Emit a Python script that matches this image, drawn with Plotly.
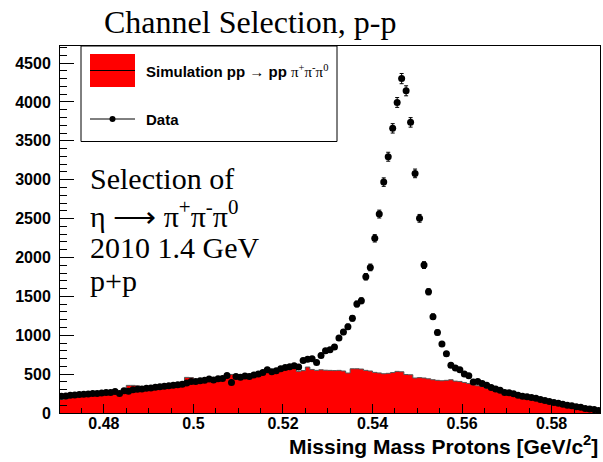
import numpy as np
import plotly.graph_objects as go

# ---- histogram binning (Missing mass, GeV/c^2) ----
bin_low = 0.470
bin_width = 0.001
n_bins = 121

# ---- measured data (counts per bin) ----
data_counts = [
    215, 220, 228, 232, 238, 240, 245, 250, 252, 258,
    262, 265, 275, 252, 285, 280, 300, 305, 310, 318,
    322, 330, 338, 345, 350, 358, 362, 370, 385, 405,
    406, 415, 420, 437, 425, 440, 445, 483, 393, 470,
    460, 475, 470, 490, 501, 520, 556, 530, 543, 570,
    586, 595, 608, 590, 676, 690, 698, 650, 740, 800,
    813, 850, 964, 1040, 1109, 1217, 1401, 1443, 1752, 1872,
    2246, 2558, 2969, 3295, 3660, 3993, 4300, 4143, 3737, 3081,
    2503, 1902, 1559, 1238, 1036, 887, 762, 615, 578, 556,
    503, 479, 400, 406, 380, 358, 328, 310, 294, 265,
    261, 246, 228, 215, 210, 200, 190, 175, 160, 148,
    136, 125, 111, 100, 94, 80, 74, 59, 52, 44,
    32,
]

# ---- simulation pp -> pp pi+ pi- pi0 (counts per bin) ----
sim_counts = [
    175, 185, 200, 210, 214, 220, 225, 232, 235, 240,
    250, 258, 262, 265, 270, 355, 355, 350, 300, 305,
    310, 325, 330, 335, 345, 350, 365, 390, 458, 455,
    406, 410, 419, 430, 437, 440, 445, 496, 496, 495,
    492, 490, 500, 514, 518, 525, 535, 540, 560, 599,
    595, 591, 585, 535, 545, 591, 560, 548, 556, 550,
    548, 545, 548, 540, 514, 569, 569, 565, 548, 540,
    522, 515, 505, 510, 520, 535, 530, 495, 492, 450,
    455, 450, 440, 428, 420, 415, 420, 428, 410, 406,
    393, 380, 364, 351, 340, 320, 308, 290, 265, 240,
    230, 222, 218, 213, 205, 195, 188, 175, 160, 150,
    136, 125, 118, 110, 100, 88, 80, 70, 58, 50,
    42,
]

x_tick_vals = [0.48, 0.50, 0.52, 0.54, 0.56, 0.58]
x_tick_text = ["0.48", "0.5", "0.52", "0.54", "0.56", "0.58"]
y_tick_vals = [0, 500, 1000, 1500, 2000, 2500, 3000, 3500, 4000, 4500]
y_tick_text = ["0", "500", "1000", "1500", "2000", "2500", "3000", "3500", "4000", "4500"]

edges = bin_low + bin_width * np.arange(n_bins + 1)
centers = edges[:-1] + bin_width / 2
data_arr = np.array(data_counts, dtype=float)
data_err = np.sqrt(data_arr)

SANS = "Arial, Liberation Sans, sans-serif"
SERIF = "Times New Roman, Liberation Serif, Times, serif"

W, H = 603, 462
ML, MR, MT, MB = 60, 3, 46, 49
PW, PH = W - ML - MR, H - MT - MB


def px(x):
    return (x - ML) / PW


def py(y):
    return (H - MB - y) / PH


fig = go.Figure()

# simulation histogram (filled step)
fig.add_trace(go.Scatter(
    x=edges, y=list(sim_counts) + [sim_counts[-1]],
    mode="lines", line=dict(shape="hv", color="#555555", width=1),
    fill="tozeroy", fillcolor="#ff0000", showlegend=False, hoverinfo="skip",
))

# data points with error bars
fig.add_trace(go.Scatter(
    x=centers, y=data_arr, mode="markers",
    marker=dict(color="black", size=7),
    error_y=dict(type="data", array=data_err, color="black", thickness=1, width=2),
    showlegend=False,
))

AX_FONT = dict(family=SANS, size=16, color="black")

fig.update_layout(
    width=W, height=H,
    margin=dict(l=ML, r=MR, t=MT, b=MB, pad=0),
    paper_bgcolor="white", plot_bgcolor="white",
    showlegend=False,
    xaxis=dict(
        range=[0.4702, 0.5908], tickvals=x_tick_vals,
        ticktext=["<b>%s</b>" % t for t in x_tick_text],
        ticks="inside", ticklen=9, tickwidth=1, tickcolor="black",
        minor=dict(dtick=0.005, tick0=0.48, ticks="inside", ticklen=5, tickcolor="black"),
        showline=True, linecolor="black", linewidth=1, mirror=True,
        showgrid=False, zeroline=False, tickfont=AX_FONT, ticklabelstandoff=-4,
    ),
    yaxis=dict(
        range=[0, 4719], tickvals=y_tick_vals,
        ticktext=["<b>%s</b>" % t for t in y_tick_text],
        ticks="inside", ticklen=14, tickwidth=1, tickcolor="black",
        minor=dict(dtick=100, tick0=0, ticks="inside", ticklen=7, tickcolor="black"),
        showline=True, linecolor="black", linewidth=1, mirror=True,
        showgrid=False, zeroline=False, tickfont=AX_FONT, ticklabelstandoff=5,
    ),
)

shapes = []
annotations = []

# title
annotations.append(dict(
    text="Channel Selection, p-p", xref="paper", yref="paper",
    x=px(250), y=py(22), xanchor="center", yanchor="middle", showarrow=False,
    font=dict(family=SERIF, size=32, color="black"),
))

# x axis title
annotations.append(dict(
    text="<b>Missing Mass Protons [GeV/c<sup>2</sup>]</b>", xref="paper", yref="paper",
    x=1.0, y=py(445), xanchor="right", yanchor="middle", showarrow=False,
    font=dict(family=SANS, size=21, color="black"),
))

# legend box
shapes.append(dict(type="rect", xref="paper", yref="paper",
                   x0=px(81), x1=px(337), y0=py(141.5), y1=py(46),
                   line=dict(color="black", width=1), fillcolor="white", layer="above"))
shapes.append(dict(type="rect", xref="paper", yref="paper",
                   x0=px(90), x1=px(135), y0=py(87), y1=py(54),
                   line=dict(width=0), fillcolor="#ff0000", layer="above"))
shapes.append(dict(type="line", xref="paper", yref="paper",
                   x0=px(90), x1=px(135), y0=py(70.5), y1=py(70.5),
                   line=dict(color="black", width=1), layer="above"))
shapes.append(dict(type="line", xref="paper", yref="paper",
                   x0=px(90), x1=px(135), y0=py(119), y1=py(119),
                   line=dict(color="black", width=1), layer="above"))
shapes.append(dict(type="circle", xref="paper", yref="paper",
                   x0=px(109.5), x1=px(115.5), y0=py(122), y1=py(116),
                   line=dict(color="black", width=0), fillcolor="black", layer="above"))

annotations.append(dict(
    text="<b>Simulation pp \u2192 pp</b> <span style='font-family:Times New Roman'>\u03c0<sup>+</sup>\u03c0<sup>-</sup>\u03c0<sup>0</sup></span>",
    xref="paper", yref="paper", x=px(144), y=py(71), xanchor="left", yanchor="middle",
    showarrow=False, font=dict(family=SANS, size=15, color="black"),
))
annotations.append(dict(
    text="<b>Data</b>", xref="paper", yref="paper", x=px(144), y=py(119),
    xanchor="left", yanchor="middle", showarrow=False,
    font=dict(family=SANS, size=15, color="black"),
))

# text block
text_lines = ["Selection of",
              "\u03b7 \u27f6 \u03c0<sup>+</sup>\u03c0<sup>-</sup>\u03c0<sup>0</sup>",
              "2010 1.4 GeV",
              "p+p"]
text_y = [178, 214, 247, 280]
for t, yy in zip(text_lines, text_y):
    annotations.append(dict(
        text=t, xref="paper", yref="paper", x=px(88), y=py(yy),
        xanchor="left", yanchor="middle", showarrow=False,
        font=dict(family=SERIF, size=30, color="black"),
    ))

fig.update_layout(shapes=shapes, annotations=annotations)
fig.write_html("out.html")
